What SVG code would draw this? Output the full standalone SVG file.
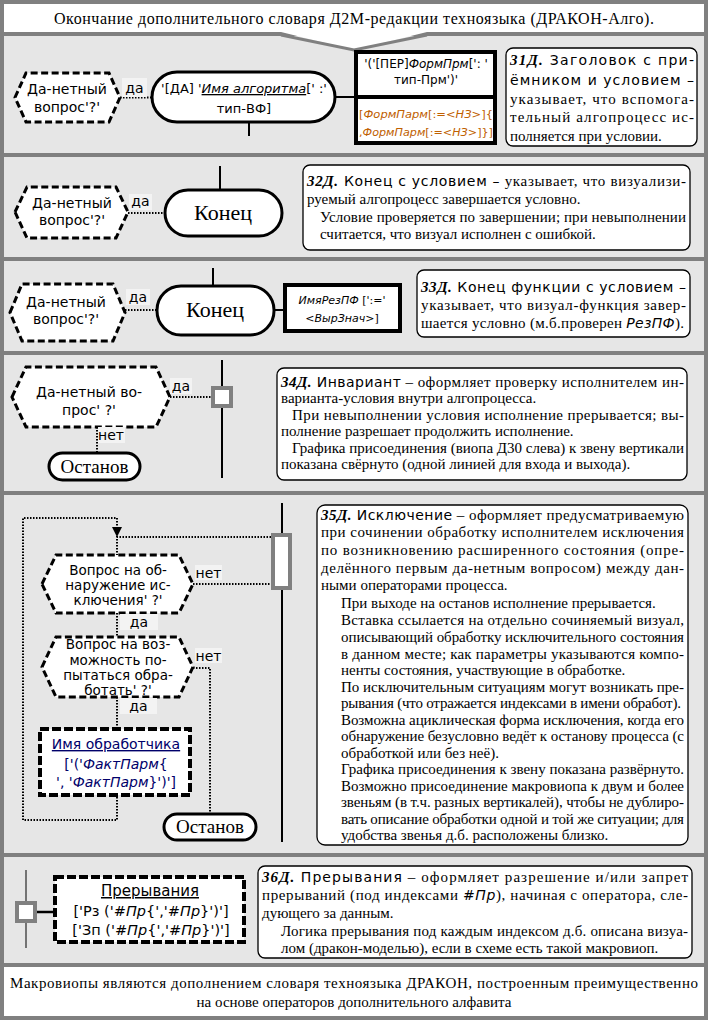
<svg xmlns="http://www.w3.org/2000/svg" width="708" height="1020" viewBox="0 0 708 1020">
<defs>
<style>
.bg{fill:#e6e6e6}
.sep{stroke:#808080;stroke-width:4}
.hex{fill:#fff;stroke:#000;stroke-width:3;stroke-dasharray:7 3.5}
.term{fill:#fff;stroke:#000;stroke-width:3}
.box{fill:#fff;stroke:#000;stroke-width:4}
.dbox{fill:#fff;stroke:#000;stroke-width:4;stroke-dasharray:9 3}
.ln{stroke:#000;stroke-width:2;fill:none}
.dot{stroke:#000;stroke-width:2;stroke-dasharray:1.5 1.5;fill:none}
.lbl{fill:#f3f3f3}
.note{fill:#fff;stroke:#000;stroke-width:1.3}
.gsq{fill:#fff;stroke:#808080;stroke-width:4}
.s{font-family:"DejaVu Sans",sans-serif;font-size:14px;fill:#000}
.r{font-family:"Liberation Serif",serif;font-size:15px;fill:#000}
.c{text-anchor:middle}
.i{font-style:italic}
.u{text-decoration:underline}
.h{font-family:"Liberation Serif",serif;font-weight:bold;font-style:italic}
.k{font-family:"Liberation Serif",serif;font-size:22px;fill:#000;text-anchor:middle}
.o{font-family:"Liberation Serif",serif;font-size:19px;fill:#000;text-anchor:middle}
</style>
<marker id="arr" viewBox="0 0 10 10" refX="10" refY="5" markerWidth="10" markerHeight="10" markerUnits="userSpaceOnUse" orient="auto">
<path d="M0,0 L10,5 L0,10 Z" fill="#000"/>
</marker>
</defs>

<!-- frame and sections -->
<rect x="2" y="2" width="704" height="1016" class="bg"/>
<rect x="4" y="4" width="700" height="29" fill="#fff"/>
<rect x="4" y="967" width="700" height="49" fill="#fff"/>
<line x1="0" y1="34" x2="708" y2="34" class="sep"/>
<line x1="0" y1="155" x2="708" y2="155" class="sep"/>
<line x1="0" y1="259" x2="708" y2="259" class="sep"/>
<line x1="0" y1="353" x2="708" y2="353" class="sep"/>
<line x1="0" y1="493" x2="708" y2="493" class="sep"/>
<line x1="0" y1="855" x2="708" y2="855" class="sep"/>
<line x1="0" y1="965" x2="708" y2="965" class="sep"/>
<rect x="2" y="2" width="704" height="1016" fill="none" stroke="#808080" stroke-width="4"/>

<g id="header">
<path d="M281,32 L354,50 L427,32 Z" fill="#fff"/>
<path d="M281,35 L354,50 L427,35" fill="none" stroke="#808080" stroke-width="3"/>
<text x="54" y="24" class="r" style="font-size:16px" textLength="600">Окончание дополнительного словаря Д2М-редакции техноязыка (ДРАКОН-Алго).</text>
</g>

<g id="connectors">
<!-- 31 -->
<line x1="120" y1="97.5" x2="152" y2="97.5" class="dot"/>
<line x1="249" y1="122" x2="249" y2="136" class="ln"/>
<line x1="335" y1="97" x2="354" y2="97" class="ln"/>
<!-- 32 -->
<line x1="128" y1="213" x2="165" y2="213" class="dot"/>
<line x1="220" y1="166" x2="220" y2="190" class="ln"/>
<!-- 33 -->
<line x1="125" y1="310" x2="157" y2="310" class="dot"/>
<line x1="213" y1="268" x2="213" y2="286" class="ln"/>
<line x1="274" y1="310" x2="283" y2="310" class="ln"/>
<!-- 34 -->
<line x1="222" y1="360" x2="222" y2="478" class="ln"/>
<line x1="170" y1="397" x2="212" y2="397" class="dot"/>
<line x1="97" y1="427" x2="97" y2="452" class="dot"/>
<!-- 35 -->
<line x1="282" y1="503" x2="282" y2="842" class="ln"/>
<path d="M117,797 V820 H23 V518 H117 V537" class="dot" marker-end="url(#arr)"/>
<path d="M271,537 H117 V555" class="dot"/>
<line x1="193" y1="584" x2="271" y2="584" class="dot"/>
<line x1="117" y1="613" x2="117" y2="637" class="dot"/>
<path d="M193,668 H210 V813" class="dot"/>
<line x1="117" y1="697" x2="117" y2="727" class="dot"/>
<!-- 36 -->
<line x1="26" y1="870" x2="26" y2="948" stroke="#000" stroke-width="1"/>
<line x1="36" y1="912" x2="53" y2="912" stroke="#000" stroke-width="2.5"/>
</g>

<!-- Section 31 -->
<g id="q31">
<polygon points="15,97.5 26,73 109,73 120,97.5 109,122 26,122" class="hex"/>
<text x="67" y="94" class="s c">Да-нетный</text>
<text x="67" y="112" class="s c">вопрос'?'</text>
</g>
<g id="l31"><rect x="122" y="78" width="25" height="19" class="lbl"/><text x="134.5" y="93" class="s c">да</text></g>
<g id="t31">
<rect x="152" y="72" width="183" height="50" rx="25" class="term"/>
<text x="244" y="93" class="s c" style="font-size:13px">'[ДА] '<tspan class="i u">Имя алгоритма</tspan>[' :'</text>
<text x="244" y="113" class="s c" style="font-size:13px">тип-ВФ]</text>
</g>
<g id="p31a">
<rect x="356" y="52" width="139" height="45" class="box"/>
<text x="426" y="68" class="s c" style="font-size:12px">'('[ПЕР]<tspan class="i">ФормПрм</tspan>[': '</text>
<text x="426" y="84" class="s c" style="font-size:12px">тип-Прм')'</text>
</g>
<g id="p31b">
<rect x="356" y="97" width="139" height="46" class="box"/>
<text x="426" y="118" class="s c" style="font-size:11px;fill:#c06000" textLength="134" lengthAdjust="spacingAndGlyphs">[<tspan class="i">ФормПарм</tspan>[:=&lt;<tspan class="i">НЗ</tspan>&gt;]{</text>
<text x="426" y="136" class="s c" style="font-size:11px;fill:#c06000" textLength="134" lengthAdjust="spacingAndGlyphs">,<tspan class="i">ФормПарм</tspan>[:=&lt;<tspan class="i">НЗ</tspan>&gt;]}]</text>
</g>
<g id="n31">
<rect x="506" y="48" width="191" height="98" rx="7" class="note"/>
<text x="510" y="65" class="s" textLength="184" lengthAdjust="spacing"><tspan class="h" style="font-size:15px">31Д.</tspan> Заголовок с при-</text>
<text x="510" y="85" class="s" textLength="184" lengthAdjust="spacing">ёмником и условием –</text>
<text x="510" y="104" class="r" textLength="184" lengthAdjust="spacing">указывает, что вспомога-</text>
<text x="510" y="122" class="r" textLength="184" lengthAdjust="spacing">тельный алгопроцесс ис-</text>
<text x="510" y="141" class="r">полняется при условии.</text>
</g>

<!-- Section 32 -->
<g id="q32">
<polygon points="15,212 27,187 116,187 128,212 116,238 27,238" class="hex"/>
<text x="72" y="208" class="s c">Да-нетный</text>
<text x="72" y="225" class="s c">вопрос'?'</text>
</g>
<g id="l32"><rect x="129" y="194" width="23" height="16" class="lbl"/><text x="140.5" y="206" class="s c">да</text></g>
<g id="t32">
<rect x="165" y="190" width="117" height="46" rx="23" class="term"/>
<text x="223" y="220" class="k">Конец</text>
</g>
<g id="n32">
<rect x="303" y="165" width="387" height="85" rx="7" class="note"/>
<text x="307" y="186" class="r" textLength="379" lengthAdjust="spacing"><tspan class="h">32Д.</tspan><tspan class="s"> Конец с условием –</tspan> указывает, что визуализи-</text>
<text x="307" y="204" class="r">руемый алгопроцесс завершается условно.</text>
<text x="320" y="222" class="r" textLength="366" lengthAdjust="spacing">Условие проверяется по завершении; при невыполнении</text>
<text x="320" y="239" class="r">считается, что визуал исполнен с ошибкой.</text>
</g>

<!-- Section 33 -->
<g id="q33">
<polygon points="10,312.5 22,284 113,284 125,312.5 113,341 22,341" class="hex"/>
<text x="66" y="307" class="s c">Да-нетный</text>
<text x="66" y="324" class="s c">вопрос'?'</text>
</g>
<g id="l33"><rect x="126" y="289" width="24" height="16" class="lbl"/><text x="138" y="302" class="s c">да</text></g>
<g id="t33">
<rect x="157" y="286" width="117" height="49" rx="24" class="term"/>
<text x="215" y="317" class="k">Конец</text>
</g>
<g id="p33">
<rect x="285" y="285" width="115" height="46" class="box"/>
<text x="342" y="304" class="s c" style="font-size:11px"><tspan class="i">ИмяРезПФ</tspan> [':='</text>
<text x="342" y="322" class="s c" style="font-size:11px">&lt;<tspan class="i">ВырЗнач</tspan>&gt;]</text>
</g>
<g id="n33">
<rect x="417" y="270" width="273" height="67" rx="7" class="note"/>
<text x="421" y="292" class="s" textLength="265" lengthAdjust="spacing"><tspan class="h" style="font-size:15px">33Д.</tspan> Конец функции с условием –</text>
<text x="421" y="310" class="r" textLength="265" lengthAdjust="spacing">указывает, что визуал-функция завер-</text>
<text x="421" y="328" class="r" textLength="263" lengthAdjust="spacing">шается условно (м.б.проверен <tspan class="s i">РезПФ</tspan>).</text>
</g>

<!-- Section 34 -->
<g id="q34">
<polygon points="12,397 26,367 156,367 170,397 156,427 26,427" class="hex"/>
<text x="89" y="397" class="s c">Да-нетный во-</text>
<text x="89" y="415" class="s c">прос' ?'</text>
</g>
<g id="l34a"><rect x="170" y="378" width="22" height="16" class="lbl"/><text x="181" y="391" class="s c">да</text></g>
<g id="l34b"><rect x="98" y="427" width="27" height="16" class="lbl"/><text x="111" y="440" class="s c">нет</text></g>
<g id="sq34"><rect x="213" y="388" width="18" height="18" class="gsq"/></g>
<g id="t34">
<rect x="49" y="453" width="91" height="27" rx="13.5" class="term"/>
<text x="94.5" y="473" class="o">Останов</text>
</g>
<g id="n34">
<rect x="277" y="368" width="410" height="112" rx="7" class="note"/>
<text x="281" y="387" class="r" textLength="403" lengthAdjust="spacing"><tspan class="h">34Д.</tspan><tspan class="s"> Инвариант</tspan> – оформляет проверку исполнителем ин-</text>
<text x="281" y="403" class="r">варианта-условия внутри алгопроцесса.</text>
<text x="292" y="420" class="r" textLength="392" lengthAdjust="spacing">При невыполнении условия исполнение прерывается; вы-</text>
<text x="281" y="436" class="r">полнение разрешает продолжить исполнение.</text>
<text x="292" y="453" class="r" textLength="392" lengthAdjust="spacing">Графика присоединения (виопа Д30 слева) к звену вертикали</text>
<text x="281" y="469" class="r">показана свёрнуто (одной линией для входа и выхода).</text>
</g>

<!-- Section 35 -->
<g id="rect35"><rect x="273" y="535" width="17" height="53" class="gsq"/></g>
<g id="q35a">
<polygon points="42,584 56,555 179,555 193,584 179,613 56,613" class="hex"/>
<text x="118" y="575" class="s c" style="font-size:13.5px">Вопрос на об-</text>
<text x="118" y="590" class="s c" style="font-size:13.5px">наружение ис-</text>
<text x="118" y="605" class="s c" style="font-size:13.5px">ключения' ?'</text>
</g>
<g id="l35a"><rect x="195" y="565" width="27" height="15" class="lbl"/><text x="208.5" y="578" class="s c">нет</text></g>
<g id="l35b"><rect x="120" y="614" width="38" height="16" class="lbl"/><text x="139" y="627" class="s c">да</text></g>
<g id="q35b">
<polygon points="42,667 56,637 179,637 193,667 179,697 56,697" class="hex"/>
<text x="118" y="649" class="s c" style="font-size:13.5px">Вопрос на воз-</text>
<text x="118" y="665" class="s c" style="font-size:13.5px">можность по-</text>
<text x="118" y="680" class="s c" style="font-size:13.5px">пытаться обра-</text>
<text x="118" y="695" class="s c" style="font-size:13.5px">ботать' ?'</text>
</g>
<g id="l35c"><rect x="195" y="648" width="27" height="15" class="lbl"/><text x="208.5" y="661" class="s c">нет</text></g>
<g id="l35d"><rect x="120" y="698" width="37" height="16" class="lbl"/><text x="138.5" y="711" class="s c">да</text></g>
<g id="h35">
<rect x="40" y="729" width="150" height="66" class="dbox"/>
<text x="116" y="749" class="s c u" style="fill:#00006a">Имя обработчика</text>
<text x="116" y="769" class="s c" style="fill:#00006a">['('<tspan class="i">ФактПарм</tspan>{</text>
<text x="116" y="787" class="s c" style="fill:#00006a">', '<tspan class="i">ФактПарм</tspan>}')']</text>
</g>
<g id="t35">
<rect x="164" y="814" width="92" height="26" rx="13" class="term"/>
<text x="210" y="833" class="o">Останов</text>
</g>
<g id="n35">
<rect x="317" y="505" width="371" height="340" rx="8" class="note"/>
<text x="321" y="520" class="r" textLength="363" lengthAdjust="spacing"><tspan class="h">35Д.</tspan><tspan class="s"> Исключение</tspan> – оформляет предусматриваемую</text>
<text x="321" y="537" class="r" textLength="363" lengthAdjust="spacing">при сочинении обработку исполнителем исключения</text>
<text x="321" y="555" class="r" textLength="363" lengthAdjust="spacing">по возникновению расширенного состояния (опре-</text>
<text x="321" y="573" class="r" textLength="363" lengthAdjust="spacing">делённого первым да-нетным вопросом) между дан-</text>
<text x="321" y="590" class="r">ными операторами процесса.</text>
<text x="341" y="608" class="r">При выходе на останов исполнение прерывается.</text>
<text x="341" y="625" class="r" textLength="343" lengthAdjust="spacing">Вставка ссылается на отдельно сочиняемый визуал,</text>
<text x="341" y="642" class="r" textLength="343" lengthAdjust="spacing">описывающий обработку исключительного состояния</text>
<text x="341" y="659" class="r" textLength="343" lengthAdjust="spacing">в данном месте; как параметры указываются компо-</text>
<text x="341" y="675" class="r">ненты состояния, участвующие в обработке.</text>
<text x="341" y="692" class="r" textLength="343" lengthAdjust="spacing">По исключительным ситуациям могут возникать пре-</text>
<text x="341" y="708" class="r" textLength="340" lengthAdjust="spacing">рывания (что отражается индексами в имени обработ).</text>
<text x="341" y="725" class="r" textLength="343" lengthAdjust="spacing">Возможна ациклическая форма исключения, когда его</text>
<text x="341" y="741" class="r" textLength="343" lengthAdjust="spacing">обнаружение безусловно ведёт к останову процесса (с</text>
<text x="341" y="758" class="r">обработкой или без неё).</text>
<text x="341" y="774" class="r">Графика присоединения к звену показана развёрнуто.</text>
<text x="341" y="791" class="r" textLength="343" lengthAdjust="spacing">Возможно присоединение макровиопа к двум и более</text>
<text x="341" y="807" class="r" textLength="343" lengthAdjust="spacing">звеньям (в т.ч. разных вертикалей), чтобы не дублиро-</text>
<text x="341" y="824" class="r" textLength="343" lengthAdjust="spacing">вать описание обработки одной и той же ситуации; для</text>
<text x="341" y="840" class="r">удобства звенья д.б. расположены близко.</text>
</g>

<!-- Section 36 -->
<g id="sq36"><rect x="17" y="903" width="18" height="18" class="gsq"/></g>
<g id="b36">
<rect x="55" y="877" width="189" height="65" class="dbox"/>
<text x="150" y="896" class="s c u" style="font-size:15px">Прерывания</text>
<text x="151" y="916" class="s c" style="font-size:14.5px">['Рз ('<tspan class="i">#Пр</tspan>{','<tspan class="i">#Пр</tspan>}')']</text>
<text x="151" y="935" class="s c" style="font-size:14.5px">['Зп ('<tspan class="i">#Пр</tspan>{','<tspan class="i">#Пр</tspan>}')']</text>
</g>
<g id="n36">
<rect x="258" y="866" width="434" height="92" rx="7" class="note"/>
<text x="262" y="882" class="r" textLength="426" lengthAdjust="spacing"><tspan class="h">36Д.</tspan><tspan class="s"> Прерывания</tspan> – оформляет разрешение и/или запрет</text>
<text x="262" y="900" class="r" textLength="426" lengthAdjust="spacing">прерываний (под индексами <tspan class="s i">#Пр</tspan>), начиная с оператора, сле-</text>
<text x="262" y="918" class="r">дующего за данным.</text>
<text x="281" y="936" class="r" textLength="407" lengthAdjust="spacing">Логика прерывания под каждым индексом д.б. описана визуа-</text>
<text x="281" y="953" class="r">лом (дракон-моделью), если в схеме есть такой макровиоп.</text>
</g>

<g id="footer">
<text x="10" y="988" class="r" textLength="688" lengthAdjust="spacing">Макровиопы  являются дополнением словаря техноязыка ДРАКОН, построенным преимущественно</text>
<text x="354" y="1007" class="r c">на основе операторов дополнительного алфавита</text>
</g>
</svg>
